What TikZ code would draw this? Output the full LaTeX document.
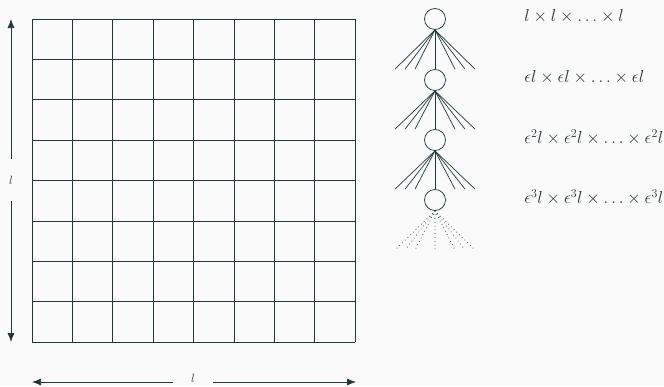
\documentclass[tikz,border=0pt]{standalone}
\usetikzlibrary{arrows.meta,positioning}
\definecolor{GridInk}{HTML}{23373B}
\definecolor{PageBack}{HTML}{FAFAFA}
\tikzset{>={Latex[length=9pt,width=7pt]},every node/.style={text=GridInk},
 knot/.style={circle,draw=GridInk,fill=PageBack,minimum size=21pt,inner sep=0pt},
 side/.style={inner sep=0pt,font=\fontsize{11.5}{14}\selectfont},
 level/.style={inner sep=0pt,font=\fontsize{17.5}{21}\selectfont},
 twig/.style={draw=GridInk,line width=0.7pt}}

\begin{document}
\begin{tikzpicture}[x=1pt,y=-1pt,line width=0.75pt]
\fill[PageBack] (0,0) rectangle (664,386);
\useasboundingbox (0,0) rectangle (664,386);
% the 8 by 8 grid
\foreach \i in {0,...,8}
 {\draw[GridInk] (32+40.375*\i,19)--(32+40.375*\i,342);
  \draw[GridInk] (32,19+40.375*\i)--(355,19+40.375*\i);}
% side lengths
\node[side,minimum height=41pt] (lv) at (11,180) {$l$};
\coordinate (vtop) at (11,19);\coordinate (vbot) at (11,342);
\draw[GridInk,->] (lv)--(vtop);\draw[GridInk,->] (lv)--(vbot);
\node[side,minimum width=40pt] (lh) at (193,378) {$l$};
\coordinate (hleft) at (32,382);\coordinate (hright) at (356,382);
\draw[GridInk,->] (lh.west|-hleft)--(hleft);
\draw[GridInk,->] (lh.east|-hright)--(hright);
% the tree
\foreach \k/\y in {0/19,1/80,2/140,3/200}
 {\node[knot] (c\k) at (435,\y) {};}
\foreach \k/\j in {0/1,1/2,2/3}
 {\draw[twig] (c\k.south)--(c\j.north);
  \foreach \dx in {-40,-30,-20,20,30,40}
   {\draw[twig] (c\k.south)--([xshift=\dx]c\j.north);}}
\coordinate (tail) at (435,250);
\foreach \dx in {-40,-30,-20,0,20,30,40}
 {\draw[twig,line width=1pt,line cap=round,dash pattern=on 0pt off 3.8pt]
  (c3.south)--([xshift=\dx]tail);}
\foreach \k/\lab in {0/l \times l \times \ldots \times l,
 1/\epsilon l \times \epsilon l \times \ldots \times \epsilon l,
 2/\epsilon^2 l \times \epsilon^2 l \times \ldots \times \epsilon^2 l,
 3/\epsilon^3 l \times \epsilon^3 l \times \ldots \times \epsilon^3 l}
 {\node[level,right=78pt of c\k,yshift=3pt] {$\lab$};}
\end{tikzpicture}
\end{document}
